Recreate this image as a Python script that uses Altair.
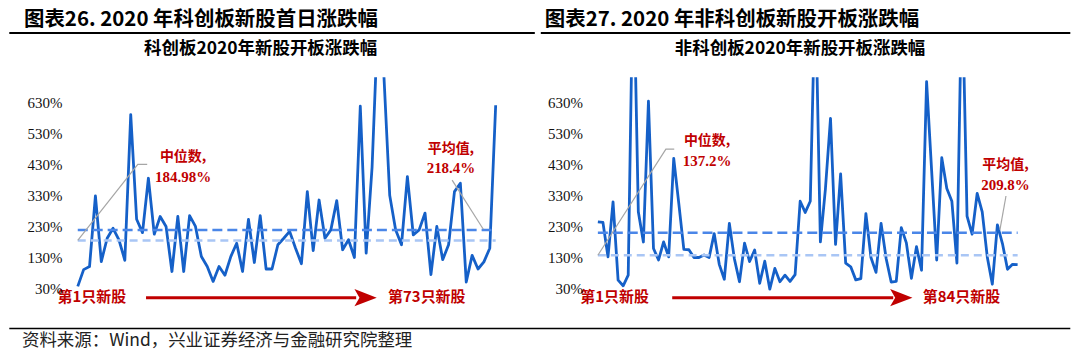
import altair as alt
import pandas as pd

# ---------------- data ----------------
left_values = [37, 91, 101, 328, 117, 192, 224, 187, 121, 590,
               253, 210, 385, 205, 262, 230, 85, 262, 85, 265,
               230, 133, 101, 53, 101, 73, 133, 176, 85, 253,
               114, 265, 93, 93, 171, 192, 214, 160, 110, 342,
               152, 315, 192, 219, 313, 155, 187, 130, 617, 144,
               420, 900, 720, 330, 219, 171, 390, 203, 219, 273,
               75, 230, 123, 171, 342, 369, 51, 137, 93, 116,
               160, 620]
right_values = [245, 243, 132, 309, 57, 39, 73, 1100, 277, 180,
                633, 159, 122, 180, 132, 449, 304, 156, 155, 130,
                130, 138, 130, 207, 108, 60, 240, 125, 52, 176,
                117, 154, 47, 118, 28, 95, 52, 73, 53, 75,
                311, 275, 311, 1000, 180, 352, 578, 172, 399, 112,
                100, 58, 62, 271, 130, 82, 240, 127, 51, 53,
                226, 177, 63, 165, 89, 696, 409, 122, 451, 352,
                311, 112, 1030, 263, 205, 336, 277, 132, 44, 235,
                175, 92, 108, 107]
left_mean, left_median = 218.4, 184.98
right_mean, right_median = 209.8, 137.2
y_ticks = [30, 130, 230, 330, 430, 530, 630]

titles = ["图表26. 2020 年科创板新股首日涨跌幅", "图表27. 2020 年非科创板新股开板涨跌幅"]
subtitles = ["科创板2020年新股开板涨跌幅", "非科创板2020年新股开板涨跌幅"]
median_labels = ["中位数,", "中位数,"]
median_values_txt = ["184.98%", "137.2%"]
mean_labels = ["平均值,", "平均值,"]
mean_values_txt = ["218.4%", "209.8%"]
first_labels = ["第1只新股", "第1只新股"]
last_labels = ["第73只新股", "第84只新股"]
source_text = "资料来源：Wind，兴业证券经济与金融研究院整理"

# annotation anchor points in data space (index, value)
ann = [
    dict(med_lead=[(0, left_median), (10.2, 430), (11.8, 430)],
         med_txt=(17.9, 454, 388),
         mean_lead=[(63.6, 379), (68.9, 221)],
         mean_txt=(63.4, 479, 417),
         first=(2.4, 4), arrow=(11.6, 47.3, 0.8), last=(59.3, 4)),
    dict(med_lead=[(0, right_median), (13.45, 479), (15.1, 479)],
         med_txt=(21.6, 505, 441),
         mean_lead=[(80.7, 328), (79.5, 219)],
         mean_txt=(80.6, 427, 363),
         first=(3.3, 4), arrow=(14.7, 58.4, 0.8), last=(71.9, 4)),
]

# ---------------- layout / style ----------------
Y_DOMAIN = [20, 710]
PLOT_H = 215
WIDTHS = [425, 426]
SPACING = 97
ORIGINS = [(73.7, 77.0), (73.7 + 425 + 97, 77.0)]  # page coords of plot areas
LINE_BLUE = "#1560C8"
MEAN_BLUE = "#4A86E8"
MEDIAN_BLUE = "#A9C6F5"
RED = "#C00000"
GREY = "#A6A6A6"
CJK = "Noto Sans CJK SC"
SERIF = "Liberation Serif"

one = pd.DataFrame({"a": [0]})

YAXIS = alt.Axis(values=y_ticks, labelExpr="datum.value + '%'", domain=False,
                 ticks=False, tickSize=0, grid=False, labelPadding=13, zindex=1,
                 labelFont=SERIF, labelFontSize=15, labelColor="#111", title=None)


def panel(k, values, mean, median):
    n = len(values)
    ox, oy = ORIGINS[k]
    a = ann[k]
    xs = alt.Scale(domain=[-0.5, n - 0.5], nice=False, zero=False)
    ys = alt.Scale(domain=Y_DOMAIN, nice=False, zero=False)

    def X(f="x"):
        return alt.X(f + ":Q", scale=xs, axis=None)

    def Y(f="y"):
        return alt.Y(f + ":Q", scale=ys, axis=YAXIS)

    def px(page_x):
        return page_x - ox

    def py(page_y):
        return page_y - oy

    layers = []
    if k == 0:
        layers.append(alt.Chart(one).mark_rect(color="white").encode(
            x=alt.value(px(8)), x2=alt.value(px(1072)),
            y=alt.value(py(8)), y2=alt.value(py(348))))

    df = pd.DataFrame({"x": list(range(n)), "y": values})
    layers.append(alt.Chart(df).mark_line(clip=True, color=LINE_BLUE, strokeWidth=2.8,
                                          strokeJoin="round").encode(x=X(), y=Y()))

    ref = pd.DataFrame({"x": [0, 0], "x2": [n - 1, n - 1], "y": [median, mean],
                        "kind": ["median", "mean"]})
    layers.append(alt.Chart(ref).transform_filter("datum.kind == 'median'").mark_rule(
        color=MEDIAN_BLUE, strokeWidth=2.5, strokeDash=[8, 5]).encode(
        x=X(), x2="x2:Q", y=Y()))
    layers.append(alt.Chart(ref).transform_filter("datum.kind == 'mean'").mark_rule(
        color=MEAN_BLUE, strokeWidth=2.5, strokeDash=[10, 5]).encode(
        x=X(), x2="x2:Q", y=Y()))

    # leader lines
    for pts in (a["med_lead"], a["mean_lead"]):
        ld = pd.DataFrame({"x": [p[0] for p in pts], "y": [p[1] for p in pts],
                           "o": list(range(len(pts)))})
        layers.append(alt.Chart(ld).mark_line(color=GREY, strokeWidth=1.2).encode(
            x=X(), y=Y(), order="o:Q"))

    # annotation texts
    def txt(x, y, s, font, size, color=RED, weight="bold", align="center"):
        d = pd.DataFrame({"x": [x], "y": [y], "t": [s]})
        return alt.Chart(d).mark_text(font=font, fontSize=size, fontWeight=weight,
                                      color=color, align=align, baseline="middle").encode(
            x=X(), y=Y(), text="t:N")

    mx, my1, my2 = a["med_txt"]
    layers.append(txt(mx, my1, median_labels[k], CJK, 14))
    layers.append(txt(mx, my2, median_values_txt[k], SERIF, 15))
    ax_, ay1, ay2 = a["mean_txt"]
    layers.append(txt(ax_, ay1, mean_labels[k], CJK, 14))
    layers.append(txt(ax_, ay2, mean_values_txt[k], SERIF, 15))
    layers.append(txt(a["first"][0], a["first"][1], first_labels[k], CJK, 15))
    layers.append(txt(a["last"][0], a["last"][1], last_labels[k], CJK, 15))

    # arrow
    x0, x1, yv = a["arrow"]
    ad = pd.DataFrame({"x": [x0], "x2": [x1], "y": [yv]})
    layers.append(alt.Chart(ad).mark_rule(color=RED, strokeWidth=3).encode(
        x=X(), x2="x2:Q", y=Y()))
    hd = pd.DataFrame({"x": [x1 + 1.6], "y": [yv]})
    layers.append(alt.Chart(hd).mark_point(
        shape="M-1,-0.78L1,0L-1,0.78L-0.55,0Z", filled=True, color=RED, opacity=1,
        size=500, strokeWidth=0).encode(x=X(), y=Y()))

    # headers
    title_x = [22.7, 545.0][k]
    layers.append(alt.Chart(one).mark_text(text=titles[k], font=CJK, fontSize=20.5,
                                           fontWeight="bold", color="#000", align="left",
                                           baseline="middle").encode(
        x=alt.value(px(title_x)), y=alt.value(py(19.5))))
    rule_x = [(8, 535), (541, 1072)][k]
    layers.append(alt.Chart(one).mark_rule(color="#000", strokeWidth=2).encode(
        x=alt.value(px(rule_x[0])), x2=alt.value(px(rule_x[1])), y=alt.value(py(32.5))))
    sub_x = [260.0, 801.0][k]
    layers.append(alt.Chart(one).mark_text(text=subtitles[k], font=CJK, fontSize=17.5,
                                           fontWeight="bold", color="#000", align="center",
                                           baseline="middle").encode(
        x=alt.value(px(sub_x)), y=alt.value(py(49))))
    if k == 0:
        layers.append(alt.Chart(one).mark_rule(color="#000", strokeWidth=1.5).encode(
            x=alt.value(px(8)), x2=alt.value(px(1072)), y=alt.value(py(329))))
        layers.append(alt.Chart(one).mark_text(text=source_text, font=CJK, fontSize=17.5,
                                               color="#222", align="left",
                                               baseline="middle").encode(
            x=alt.value(px(20.7)), y=alt.value(py(341.5))))

    return alt.layer(*layers).properties(width=WIDTHS[k], height=PLOT_H)


chart = alt.hconcat(
    panel(0, left_values, left_mean, left_median),
    panel(1, right_values, right_mean, right_median),
    spacing=SPACING, bounds="flush",
).properties(padding=0, background="white").configure_view(strokeWidth=0)

chart.save("out.html", embed_options={"renderer": "svg", "actions": False})
